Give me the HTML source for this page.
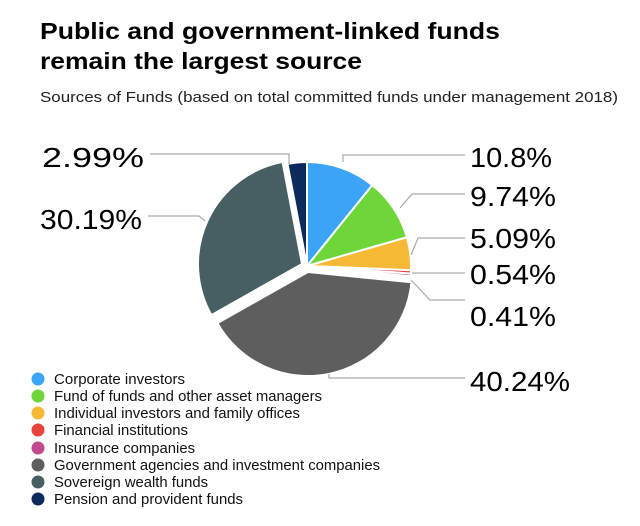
<!DOCTYPE html>
<html><head><style>
body{margin:0;background:#fff;width:640px;height:526px;overflow:hidden;font-family:"Liberation Sans",sans-serif}
</style></head><body>
<svg width="640" height="526" xmlns="http://www.w3.org/2000/svg" style="position:absolute;left:0;top:0">
<text x="40" y="39" font-size="23" font-weight="bold" fill="#000" font-family="Liberation Sans" textLength="460" lengthAdjust="spacingAndGlyphs">Public and government-linked funds</text>
<text x="40" y="69" font-size="23" font-weight="bold" fill="#000" font-family="Liberation Sans" textLength="322" lengthAdjust="spacingAndGlyphs">remain the largest source</text>
<text x="40" y="102" font-size="14.5" fill="#222" font-family="Liberation Sans" textLength="578" lengthAdjust="spacingAndGlyphs">Sources of Funds (based on total committed funds under management 2018)</text>
<g stroke="#fff" stroke-width="2" stroke-linejoin="round">
<path d="M307,266 L307,162 A104,104 0 0 1 372.3,185.1 Z" fill="#3ba4f7"/>
<path d="M307,266 L372.3,185.1 A104,104 0 0 1 406.9,237.3 Z" fill="#6fd63a"/>
<path d="M307,266 L406.9,237.3 A104,104 0 0 1 410.9,270.2 Z" fill="#f6b935"/>
<path d="M307,266 L410.9,270.2 A104,104 0 0 1 410.7,273.6 Z" fill="#e8433a"/>
<path d="M307,266 L410.7,273.6 A104,104 0 0 1 410.5,276.3 Z" fill="#c34a8c"/>
<path transform="translate(1,6)" d="M307,266 L410.5,276.3 A104,104 0 0 1 216.4,317.1 Z" fill="#5e5e5e"/>
<path transform="translate(-5,-2)" d="M307,266 L216.4,317.1 A104,104 0 0 1 287.5,163.9 Z" fill="#475f62"/>
<path d="M307,266 L287.5,163.9 A104,104 0 0 1 307,162 Z" fill="#0c2a5c"/>
</g>
<g stroke="#aaa" stroke-width="1.2" fill="none">
<polyline points="150,154 289,154 289,164"/>
<polyline points="148,216 199,216 205,221"/>
<polyline points="343,162 343,155 465,155"/>
<polyline points="400,208 412,194 465,194"/>
<polyline points="411,255 418,238 465,238"/>
<polyline points="412,273 465,273"/>
<polyline points="411,280 430,300 465,300"/>
<polyline points="329,374 329,378 465,378"/>
</g>
<g font-size="28" fill="#000" font-family="Liberation Sans">
<text x="42" y="167" textLength="102" lengthAdjust="spacingAndGlyphs">2.99%</text>
<text x="40" y="229" textLength="102" lengthAdjust="spacingAndGlyphs">30.19%</text>
<text x="470" y="167" textLength="82" lengthAdjust="spacingAndGlyphs">10.8%</text>
<text x="470" y="206" textLength="86" lengthAdjust="spacingAndGlyphs">9.74%</text>
<text x="470" y="248" textLength="86" lengthAdjust="spacingAndGlyphs">5.09%</text>
<text x="470" y="284" textLength="86" lengthAdjust="spacingAndGlyphs">0.54%</text>
<text x="470" y="326" textLength="86" lengthAdjust="spacingAndGlyphs">0.41%</text>
<text x="470" y="391" textLength="100" lengthAdjust="spacingAndGlyphs">40.24%</text>
</g>
<g font-size="14.5" fill="#111" font-family="Liberation Sans">
<circle cx="38" cy="379" r="6.5" fill="#3ba4f7"/><text x="54" y="384" textLength="131" lengthAdjust="spacingAndGlyphs">Corporate investors</text>
<circle cx="38" cy="396" r="6.5" fill="#6fd63a"/><text x="54" y="401" textLength="268" lengthAdjust="spacingAndGlyphs">Fund of funds and other asset managers</text>
<circle cx="38" cy="413" r="6.5" fill="#f6b935"/><text x="54" y="418" textLength="246" lengthAdjust="spacingAndGlyphs">Individual investors and family offices</text>
<circle cx="38" cy="430" r="6.5" fill="#e8433a"/><text x="54" y="435" textLength="134" lengthAdjust="spacingAndGlyphs">Financial institutions</text>
<circle cx="38" cy="448" r="6.5" fill="#c34a8c"/><text x="54" y="453" textLength="141" lengthAdjust="spacingAndGlyphs">Insurance companies</text>
<circle cx="38" cy="465" r="6.5" fill="#5e5e5e"/><text x="54" y="470" textLength="326" lengthAdjust="spacingAndGlyphs">Government agencies and investment companies</text>
<circle cx="38" cy="482" r="6.5" fill="#475f62"/><text x="54" y="487" textLength="154" lengthAdjust="spacingAndGlyphs">Sovereign wealth funds</text>
<circle cx="38" cy="499" r="6.5" fill="#0c2a5c"/><text x="54" y="504" textLength="189" lengthAdjust="spacingAndGlyphs">Pension and provident funds</text>
</g>
</svg>
</body></html>
